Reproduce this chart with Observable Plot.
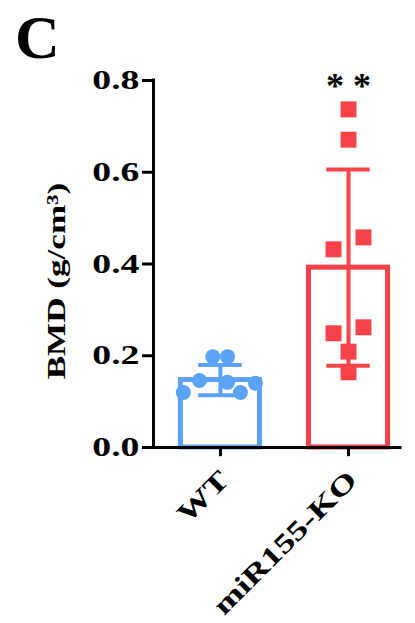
<!DOCTYPE html>
<html>
<head>
<meta charset="utf-8">
<script src="https://cdn.jsdelivr.net/npm/d3@7"></script>
<script src="https://cdn.jsdelivr.net/npm/@observablehq/plot@0.6"></script>
<style>
  html, body { margin: 0; padding: 0; background: #fff; }
  #wrap { position: relative; width: 415px; height: 623px; }
  #panel { position: absolute; left: 15px; top: 6px; font: bold 62px "Liberation Serif", "Times New Roman", serif; line-height: 1; color: #000; }
  #chart { position: absolute; left: 0; top: 0; }
</style>
</head>
<body>
<div id="wrap">
  <div id="chart"></div>
  <div id="panel">C</div>
</div>
<script>
// ---- data ----
const groups = ["WT", "miR155-KO"];
const colors = ["#5aa2f8", "#f64248"];
const means = [0.147, 0.392];
const sds = [0.033, 0.214];
const wtValues = [0.198, 0.198, 0.146, 0.120, 0.142, 0.120, 0.140];
const wtJitter = [-0.06, 0.055, -0.164, -0.29, 0.055, 0.156, 0.273];
const koValues = [0.737, 0.671, 0.458, 0.432, 0.249, 0.262, 0.209, 0.164];
const koJitter = [0, 0, 0.117, -0.117, -0.117, 0.117, 0, 0];
const yTicks = [0, 0.2, 0.4, 0.6, 0.8];
const xTicks = [0, 1];
const significance = [{group: 1, label: "* *"}];
const yLabel = "BMD (g/cm³)";

// ---- derived tables ----
const xDomain = [-0.523, 1.406];
const barHalf = 0.309;
const capHalf = 0.17;
const tickLen = 0.02; // x tick length, in y units
const summary = groups.map((g, i) => ({i, g, mean: means[i], lo: means[i] - sds[i], hi: means[i] + sds[i], color: colors[i]}));
const points = [
  ...wtValues.map((v, k) => ({i: 0, x: 0 + wtJitter[k], v, color: colors[0]})),
  ...koValues.map((v, k) => ({i: 1, x: 1 + koJitter[k], v, color: colors[1]}))
];

const font = '"Liberation Serif", "Times New Roman", serif';

const chart = Plot.plot({
  width: 415,
  height: 623,
  marginTop: 80,
  marginBottom: 176,
  marginLeft: 153,
  marginRight: 15,
  style: {fontFamily: font, background: "white", overflow: "visible"},
  x: {type: "linear", domain: xDomain},
  y: {domain: [0, 0.8]},
  marks: [
    Plot.rectY(summary, {x1: d => d.i - barHalf, x2: d => d.i + barHalf, y1: 0, y2: "mean", fill: "white", stroke: "color", strokeWidth: 5}),
    Plot.ruleX(summary, {x: "i", y1: "lo", y2: "hi", stroke: "color", strokeWidth: 4}),
    Plot.ruleY(summary, {y: "hi", x1: d => d.i - capHalf, x2: d => d.i + capHalf, stroke: "color", strokeWidth: 4}),
    Plot.ruleY(summary, {y: "lo", x1: d => d.i - capHalf, x2: d => d.i + capHalf, stroke: "color", strokeWidth: 4}),
    Plot.dot(points.filter(d => d.i === 0), {x: "x", y: "v", r: 7.5, fill: "color", symbol: "circle"}),
    Plot.dot(points.filter(d => d.i === 1), {x: "x", y: "v", r: 9, fill: "color", symbol: "square"}),
    // axis lines
    Plot.ruleY([0], {strokeWidth: 3, stroke: "black", strokeLinecap: "square"}),
    Plot.ruleX([xDomain[0]], {y1: 0, y2: 0.8, strokeWidth: 3, stroke: "black", strokeLinecap: "square"}),
    // x tick marks below the axis
    Plot.ruleX(xTicks, {x: d => d, y1: 0, y2: -tickLen, strokeWidth: 3, stroke: "black"}),
    Plot.axisY({ticks: yTicks, tickFormat: d3.format(".1f"), tickSize: 11, tickPadding: 3, strokeWidth: 3,
      fontSize: 27, fontWeight: "bold", fill: "black", label: null}),
    Plot.axisX({ticks: xTicks, tickFormat: i => groups[i], tickSize: 8, tickPadding: 20, strokeWidth: 3,
      tickRotate: -45, fontSize: 27, fontWeight: "bold", fill: "black", label: null}),
    Plot.text([yLabel], {frameAnchor: "left", textAnchor: "middle", rotate: -90, dx: -97, dy: 17, fontSize: 26, fontWeight: "bold", fill: "black"}),
    Plot.text(significance, {x: "group", frameAnchor: "top", text: "label", fontSize: 36, fontWeight: "bold", dy: -8, fill: "black"})
  ]
});

// widen glyphs along their baseline, as in the reference typesetting
function stretchEl(t, s, shiftX = 0) {
  const ax = +t.getAttribute("x") || 0, ay = +t.getAttribute("y") || 0;
  const tr = t.getAttribute("transform") || "";
  t.setAttribute("transform", `translate(${shiftX},0) ${tr} translate(${ax},${ay}) scale(${s},1) translate(${-ax},${-ay})`);
}
chart.querySelectorAll('g[aria-label="y-axis tick label"] text').forEach(t => stretchEl(t, 1.4));
chart.querySelectorAll('g[aria-label="x-axis tick label"] text').forEach(t => stretchEl(t, 1.35, 4));
chart.querySelectorAll("text").forEach(t => { if (t.textContent === yLabel) stretchEl(t, 1.35); });

document.getElementById("chart").appendChild(chart);
</script>
</body>
</html>
